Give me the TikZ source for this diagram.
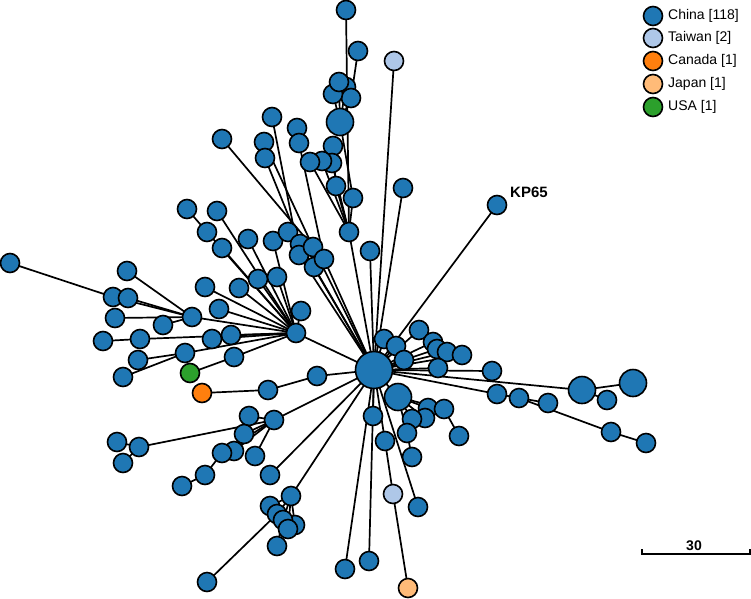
\documentclass[tikz,border=0pt]{standalone}
\usepackage{fontspec}
\setmainfont{Liberation Sans}
\pgfdeclarelayer{bg}
\pgfsetlayers{bg,main}
\definecolor{cchina}{HTML}{1F77B4}
\definecolor{ctaiwan}{HTML}{AEC7E8}
\definecolor{ccanada}{HTML}{FF7F0E}
\definecolor{cjapan}{HTML}{FFBB78}
\definecolor{cusa}{HTML}{2CA02C}
\begin{document}
\begin{tikzpicture}[x=1pt,y=-1pt,
  cn/.style={circle,draw=black,line width=1.6pt,fill=cchina,minimum size=19pt,inner sep=0pt},
  med/.style={cn,minimum size=27pt},
  hubst/.style={cn,minimum size=37pt},
  tw/.style={cn,fill=ctaiwan},
  ca/.style={cn,fill=ccanada},
  jp/.style={cn,fill=cjapan},
  us/.style={cn,fill=cusa},
  edge/.style={draw=black,line width=1.7pt},
  legtext/.style={anchor=west,inner sep=0pt,font=\fontsize{14}{16}\selectfont}]
\useasboundingbox (0,0) rectangle (751,598);
% hub
\node[hubst] (h) at (374,370) {};
\node[cn] (h2) at (296,333) {};
% top
\node[cn] (t1) at (346,10) {};
\node[cn] (t2) at (358,51) {};
\node[tw] (tw1) at (394,61) {};
\node[cn] (c2) at (346,87) {};
\node[cn] (c4) at (351,98) {};
\node[cn] (c3) at (333,94) {};
\node[cn] (c1) at (339,82) {};
\node[med] (b1) at (340,122) {};
\node[cn] (u1) at (272,117) {};
\node[cn] (u2) at (297,128) {};
\node[cn] (u3) at (299,143) {};
\node[cn] (u4) at (222,139) {};
\node[cn] (u5) at (264,142) {};
\node[cn] (u6) at (265,158) {};
\node[cn] (u7) at (333,146) {};
\node[cn] (u10) at (332,163) {};
\node[cn] (u9) at (322,161) {};
\node[cn] (u8) at (310,162) {};
\node[cn] (u11) at (336,186) {};
\node[cn] (u12) at (353,198) {};
\node[cn] (u13) at (349,232) {};
\node[cn] (u14) at (370,251) {};
\node[cn] (u15) at (403,188) {};
\node[cn] (kp) at (497,205) {};
\node[anchor=west,inner sep=0pt,font=\fontsize{15}{17}\selectfont\bfseries] (kplab) at (510,192) {KP65};
% left upper cluster
\node[cn] (l1) at (187,209) {};
\node[cn] (l2) at (207,232) {};
\node[cn] (l3) at (217,211) {};
\node[cn] (l4) at (222,248) {};
\node[cn] (l5) at (248,239) {};
\node[cn] (l6) at (273,241) {};
\node[cn] (l7) at (288,232) {};
\node[cn] (m1) at (300,244) {};
\node[cn] (m3) at (299,255) {};
\node[cn] (m2) at (313,247) {};
\node[cn] (m5) at (314,267) {};
\node[cn] (m4) at (324,259) {};
\node[cn] (l8) at (258,279) {};
\node[cn] (l9) at (277,277) {};
\node[cn] (l10) at (205,287) {};
\node[cn] (l11) at (239,288) {};
\node[cn] (l12) at (219,309) {};
\node[cn] (l13) at (301,311) {};
\node[cn] (l14) at (192,317) {};
\node[cn] (l15) at (212,339) {};
\node[cn] (l16) at (231,335) {};
\node[cn] (l17) at (185,353) {};
\node[cn] (l18) at (234,357) {};
\node[us] (usa) at (190,373) {};
% far left
\node[cn] (f1) at (10,263) {};
\node[cn] (f2) at (127,271) {};
\node[cn] (f3) at (113,297) {};
\node[cn] (f4) at (128,298) {};
\node[cn] (f5) at (115,318) {};
\node[cn] (f6) at (163,325) {};
\node[cn] (f7) at (103,341) {};
\node[cn] (f8) at (140,339) {};
\node[cn] (f9) at (138,360) {};
\node[cn] (f10) at (123,377) {};
% right
\node[cn] (r3) at (419,330) {};
\node[cn] (r0) at (384,339) {};
\node[cn] (r1) at (396,346) {};
\node[cn] (r4) at (433,342) {};
\node[cn] (r5) at (437,349) {};
\node[cn] (r6) at (447,352) {};
\node[cn] (r7) at (462,355) {};
\node[cn] (r2) at (404,360) {};
\node[cn] (r8) at (438,368) {};
\node[cn] (r9) at (492,371) {};
\node[cn] (r10) at (607,400) {};
\node[med] (bg1) at (582,390) {};
\node[med] (bg2) at (633,383) {};
\node[cn] (r11) at (497,394) {};
\node[cn] (r12) at (519,398) {};
\node[cn] (r13) at (548,403) {};
\node[cn] (r14) at (611,432) {};
\node[cn] (r15) at (646,443) {};
\node[cn] (s1) at (428,408) {};
\node[cn] (s2) at (444,409) {};
\node[cn] (s3) at (425,418) {};
\node[cn] (s4) at (412,419) {};
\node[cn] (s5) at (459,436) {};
\node[med] (bg3) at (398,397) {};
\node[cn] (d1) at (373,416) {};
\node[cn] (d3) at (407,433) {};
\node[cn] (d2) at (385,441) {};
\node[cn] (d4) at (412,457) {};
\node[tw] (tw2) at (393,494) {};
\node[cn] (d5) at (418,507) {};
\node[jp] (jp) at (408,588) {};
\node[cn] (d6) at (345,569) {};
\node[cn] (d7) at (369,561) {};
% lower left
\node[ca] (ca) at (202,393) {};
\node[cn] (g1) at (268,390) {};
\node[cn] (g2) at (317,376) {};
\node[cn] (k1) at (249,416) {};
\node[cn] (k3) at (244,434) {};
\node[cn] (k2) at (274,420) {};
\node[cn] (k6) at (255,456) {};
\node[cn] (k4) at (234,451) {};
\node[cn] (k5) at (222,453) {};
\node[cn] (k7) at (205,475) {};
\node[cn] (k8) at (182,486) {};
\node[cn] (w1) at (117,442) {};
\node[cn] (w2) at (139,447) {};
\node[cn] (w3) at (123,463) {};
\node[cn] (n1) at (270,475) {};
\node[cn] (n2) at (291,496) {};
\node[cn] (n3) at (270,506) {};
\node[cn] (n4) at (277,514) {};
\node[cn] (n6) at (295,525) {};
\node[cn] (n5) at (283,520) {};
\node[cn] (n7) at (288,529) {};
\node[cn] (n8) at (277,546) {};
\node[cn] (n9) at (207,582) {};
% edges
\begin{pgfonlayer}{bg}
\foreach \a/\b in {h2/h,l14/h2,f1/f3,f2/l14,f3/l14,f4/l14,f5/l14,f6/l14,f7/f8,f8/h2,
  l15/h2,l16/h2,f9/l17,f10/l17,l17/h2,usa/l18,l18/h2,l10/h2,l11/h2,l12/h2,l13/h2,
  l8/h2,l9/h2,l4/h2,l3/h2,l1/l2,l2/h2,l5/h2,l6/h2,l7/m1,
  u4/m2,u5/m2,u6/m1,u1/m3,m1/h,m2/h,m3/h,m4/h,m5/h,u2/u3,u3/m4,
  t1/u13,t2/c4,c1/b1,c2/b1,c3/b1,c4/b1,b1/u12,u12/u13,u7/u11,u11/u13,u8/u13,u9/u13,u10/u13,
  u13/h,tw1/h,u15/h,u14/h,kp/h,
  r0/h,r1/h,r2/h,r3/h,r4/h,r5/h,r6/h,r7/h,r8/h,r9/h,bg1/h,bg1/bg2,bg1/r10,
  r11/h,r11/r12,r12/r13,r12/r14,r14/r15,
  bg3/h,bg3/s1,bg3/s2,bg3/s3,bg3/s4,s2/s5,d1/h,d2/h,d3/bg3,d4/d3,tw2/d2,jp/tw2,d5/h,d6/h,d7/h,
  ca/g1,g1/g2,g2/h,k2/h,w2/k2,w1/w2,w3/w2,k1/k2,k3/k2,k6/k2,k4/k2,k5/k2,k7/k5,k8/k7,
  n1/h,n2/h,n3/n2,n4/n2,n5/n2,n6/n2,n7/n2,n8/n5,n9/n4}
  \draw[edge] (\a.center) -- (\b.center);
\end{pgfonlayer}
% legend
\node[cn] (lg1) at (653,16) {};
\node[legtext] (lt1) at (668,16) {China [118]};
\node[tw] (lg2) at (653,38) {};
\node[legtext] (lt2) at (668,38) {Taiwan [2]};
\node[ca] (lg3) at (653,61) {};
\node[legtext] (lt3) at (668,61) {Canada [1]};
\node[jp] (lg4) at (653,84) {};
\node[legtext] (lt4) at (668,84) {Japan [1]};
\node[us] (lg5) at (653,107) {};
\node[legtext] (lt5) at (668,107) {USA [1]};
% scale bar
\coordinate (sb1) at (642,554);
\coordinate (sb2) at (750,554);
\draw[line width=1.6pt] ([yshift=5pt]sb1) -- (sb1) -- (sb2) -- ([yshift=5pt]sb2);
\node[inner sep=0pt,font=\fontsize{14}{16}\selectfont\bfseries] (sblab) at (694,546) {30};
\end{tikzpicture}
\end{document}
